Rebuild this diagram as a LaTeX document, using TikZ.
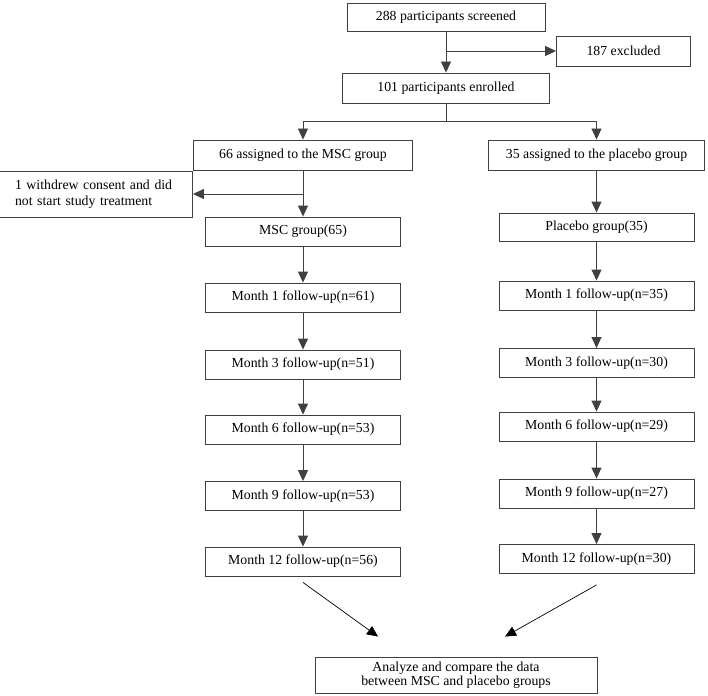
\documentclass[tikz,border=0pt]{standalone}
\usepackage{fontspec}
\setmainfont{Liberation Serif}
\usetikzlibrary{arrows.meta}

\begin{document}
\begin{tikzpicture}[x=1pt, y=-1pt,
		box/.style={draw=black!75, line width=0.9pt, fill=white, inner sep=0pt,
			minimum width=195pt, minimum height=29pt, font=\fontsize{13.8}{16}\selectfont},
		arr/.style={draw=black!75, line width=0.9pt, -{Triangle[width=10pt,length=11pt]}},
		diag/.style={draw=black, line width=0.7pt, -{Triangle[width=10pt,length=11pt]}}]
			%%%%% START %%%%%
			\useasboundingbox (0,0) rectangle (708,695);
			
			\node[box, minimum width=198pt, minimum height=28pt] (scr) at (446,17) {288 participants screened};
			\node[box, minimum width=134pt, minimum height=30pt] (exc) at (623.5,51) {187 excluded};
			\node[box, minimum width=207pt, minimum height=30pt] (enr) at (446,88) {101 participants enrolled};
			
			\draw[arr] (scr) -- (enr);
			\draw[arr] (scr.south |- exc.west) -- (exc.west);
			
			\node[box, minimum width=219pt, minimum height=30pt] (msc) at (303,155) {66 assigned to the MSC group};
			\node[box, minimum width=216pt, minimum height=30pt] (plc) at (596.5,155) {35 assigned to the placebo group};
			
			\coordinate (split) at (446,121);
			\draw[draw=black!75, line width=0.9pt] (enr) -- (split);
			\draw[arr] (split) -| (msc);
			\draw[arr] (split) -| (plc);
			
			\node[box, align=left, text width=160pt, inner xsep=13pt, minimum height=46pt] (wd) at (95,194)
				{1 withdrew consent and did\\not start study treatment};
			
			\node[box] (mg) at (303,231.5) {MSC group(65)};
			\node[box, minimum height=28pt] (pg) at (596.5,227) {Placebo group(35)};
			\draw[arr] (msc) -- (mg);
			\draw[arr] (msc.south |- wd.east) -- (wd.east);
			\draw[arr] (plc) -- (pg);
			
			% MSC arm
			\foreach \m/\n/\y [count=\i] in {1/61/297.5, 3/51/364.5, 6/53/429.5, 9/53/496, 12/56/561.5}
				\node[box] (L\i) at (303,\y) {Month \m{} follow-up(n=\n)};
			\foreach \a/\b in {mg/L1, L1/L2, L2/L3, L3/L4, L4/L5}
				\draw[arr] (\a) -- (\b);
			
			% placebo arm
			\foreach \m/\n/\y [count=\i] in {1/35/295.5, 3/30/363, 6/29/426.5, 9/27/493.5, 12/30/559}
				\node[box] (R\i) at (596.5,\y) {Month \m{} follow-up(n=\n)};
			\foreach \a/\b in {pg/R1, R1/R2, R2/R3, R3/R4, R4/R5}
				\draw[arr] (\a) -- (\b);
			
			\node[box, align=center, minimum width=282pt, minimum height=36pt,
				font=\fontsize{13.8}{14.5}\selectfont] (fin) at (456,675)
				{Analyze and compare the data\\between MSC and placebo groups};
			
			\draw[diag] ([yshift=-6pt]L5.south) -- ([xshift=-78pt,yshift=20pt]fin.north);
			\draw[diag] ([yshift=-11pt]R5.south) -- ([xshift=49pt,yshift=20pt]fin.north);
			
			%%%%% END %%%%%
\end{tikzpicture}
\end{document}
